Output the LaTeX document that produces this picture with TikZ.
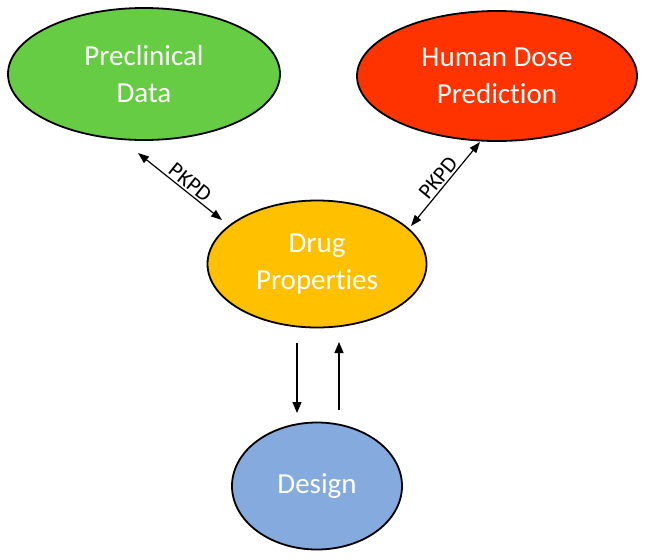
\documentclass[tikz,border=0pt]{standalone}
\usepackage{fontspec}
\setmainfont{Carlito}[Ligatures={NoCommon}]
\usetikzlibrary{shapes.geometric,arrows.meta}
\definecolor{cgreen}{RGB}{102,204,68}
\definecolor{cred}{RGB}{255,51,0}
\definecolor{corange}{RGB}{255,192,0}
\definecolor{cblue}{RGB}{132,170,222}
\tikzset{
  blob/.style={ellipse, draw=black, line width=1.8pt, inner sep=0pt, text=white,
    font=\fontsize{29}{37}\selectfont, align=center},
  conn/.style={line width=1.2pt, -{Triangle[length=11pt,width=9pt]}},
  dconn/.style={line width=1.2pt, {Triangle[length=11pt,width=8pt]}-{Triangle[length=11pt,width=8pt]}},
  lbl/.style={font=\fontsize{22}{22}\selectfont, text=black, inner sep=2pt}
}
\begin{document}
\begin{tikzpicture}[x=1pt,y=-1pt]
\useasboundingbox (0,0) rectangle (645,558);
\node[blob, fill=cgreen, minimum width=272pt, minimum height=132pt] (pre) at (144,74) {Preclinical\\Data};
\node[blob, fill=cred, minimum width=280pt, minimum height=130pt] (hum) at (497,76) {Human Dose\\Prediction};
\node[blob, fill=corange, minimum width=219pt, minimum height=127pt] (drug) at (317,264) {Drug\\Properties};
\node[blob, fill=cblue, minimum width=170pt, minimum height=127pt] (des) at (317,486) {Design};
\coordinate (a1) at (138,153);
\coordinate (a2) at (222,220);
\coordinate (b1) at (480,142);
\coordinate (b2) at (411,226);
\coordinate (c1) at (297,343);
\coordinate (c2) at (297,413);
\coordinate (d1) at (339,410);
\coordinate (d2) at (339,342);
\draw[dconn] (a1) -- node[lbl, sloped, above, pos=0.55] {PKPD} (a2);
\draw[dconn] (b2) -- node[lbl, sloped, above, pos=0.5] {PKPD} (b1);
\draw[conn] (c1) -- (c2);
\draw[conn] (d1) -- (d2);
\end{tikzpicture}
\end{document}
